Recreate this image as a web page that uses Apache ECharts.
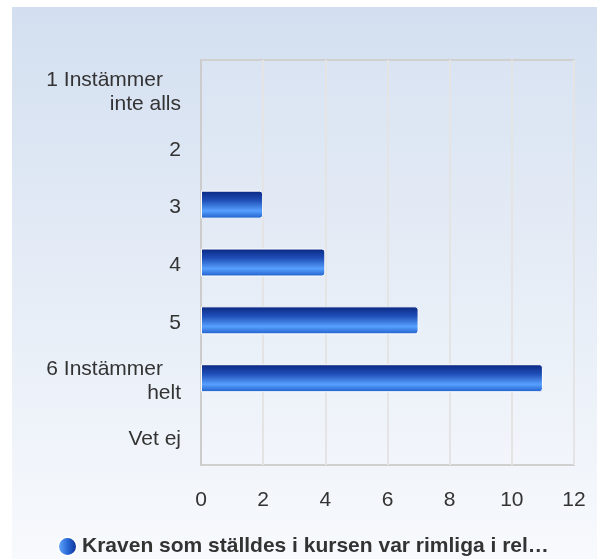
<!DOCTYPE html>
<html><head><meta charset="utf-8">
<script src="https://cdn.jsdelivr.net/npm/echarts@6/dist/echarts.min.js"></script>
<style>html,body{margin:0;padding:0;background:#fff}#c{width:597px;height:559px}</style>
</head><body><div id="c"></div>
<script>
const categories = ['1 Instämmer\ninte alls', '2', '3', '4', '5', '6 Instämmer\nhelt', 'Vet ej'];
const values = [0, 0, 2, 4, 7, 11, 0];
const seriesName = 'Kraven som ställdes i kursen var rimliga i rel…';
const xTicks = { min: 0, max: 12, interval: 2 };

const chart = echarts.init(document.getElementById('c'), null, { renderer: 'canvas' });
const font = '"Liberation Sans", Arial, sans-serif';
chart.setOption({
  backgroundColor: '#ffffff',
  animation: false,
  graphic: [{
    type: 'rect', z: -10, silent: true,
    shape: { x: 12, y: 7, width: 600, height: 560 },
    style: { fill: new echarts.graphic.LinearGradient(0, 0, 0, 1, [
      { offset: 0, color: '#d3dff0' }, { offset: 1, color: '#f8fafd' }]) }
  }],
  grid: { left: 201, right: 23, top: 60, bottom: 94, show: true, borderColor: '#d0d0d0', borderWidth: 2, backgroundColor: 'rgba(255,255,255,0.08)' },
  legend: {
    bottom: -3, left: 52,
    icon: 'circle', itemWidth: 19, itemHeight: 19, itemGap: 6,
    textStyle: { fontFamily: font, fontSize: 21, fontWeight: 'bold', color: '#333' },
    data: [{ name: seriesName, itemStyle: { color: new echarts.graphic.LinearGradient(0, 0, 1, 0, [
      { offset: 0, color: '#6fb0ff' }, { offset: 0.5, color: '#2a6ad8' }, { offset: 1, color: '#0a2a8a' }]) } }]
  },
  xAxis: {
    type: 'value', min: xTicks.min, max: xTicks.max, interval: xTicks.interval,
    axisLine: { show: false }, axisTick: { show: false },
    axisLabel: { fontFamily: font, fontSize: 21, color: '#333', margin: 25 },
    splitLine: { lineStyle: { color: '#e4e4e4', width: 2 } }
  },
  yAxis: {
    type: 'category', data: categories, inverse: true,
    axisLine: { show: true, lineStyle: { color: '#cccccc', width: 2 } },
    axisTick: { show: false },
    axisLabel: {
      fontFamily: font, fontSize: 21, color: '#333', margin: 20, align: 'right',
      padding: [6, 0, 0, 0],
      formatter: function (v) {
        const parts = v.split('\n');
        if (parts.length === 1) return '{b|' + v + '}';
        return parts.map((p, i) => (i === 0 ? '{a|' + p + '}' : '{b|' + p + '}')).join('\n');
      },
      rich: {
        a: { fontFamily: font, fontSize: 21, color: '#333', padding: [0, 18, 0, 0], lineHeight: 24 },
        b: { fontFamily: font, fontSize: 21, color: '#333', lineHeight: 24 }
      }
    }
  },
  series: [{
    name: seriesName, type: 'bar', barWidth: 28,
    data: values.map(v => v === 0 ? { value: v, itemStyle: { borderWidth: 0, opacity: 0 } } : v),
    itemStyle: {
      borderColor: '#ffffff', borderWidth: 1, borderRadius: [0, 3, 3, 0],
      color: new echarts.graphic.LinearGradient(0, 0, 0, 1, [
        { offset: 0, color: '#0a2680' }, { offset: 0.35, color: '#1f4fb8' },
        { offset: 0.72, color: '#57a0ff' }, { offset: 1, color: '#1e5cc8' }])
    }
  }]
});
</script></body></html>
